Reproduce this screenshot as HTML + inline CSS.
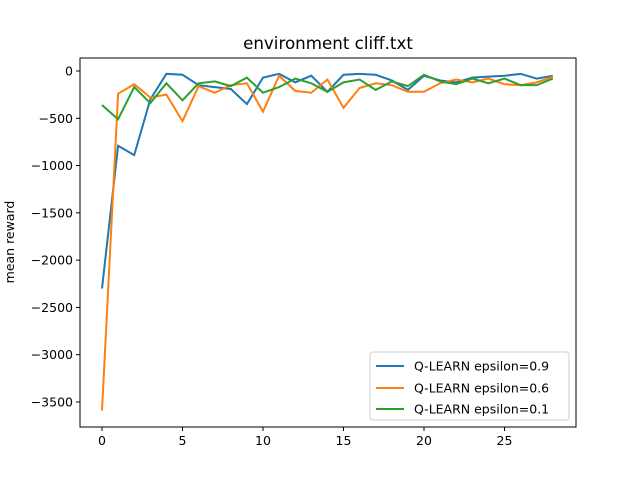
<!DOCTYPE html>
<html><head><meta charset="utf-8"><style>body{margin:0;background:#fff}svg{font-family:"DejaVu Sans","Liberation Sans",sans-serif}</style></head>
<body>
<svg id="chart" width="640" height="480">
<rect width="640" height="480" fill="#fff"/>
<text x="328" y="49" font-size="16.7" text-anchor="middle">environment cliff.txt</text>
<text transform="translate(14,242) rotate(-90)" font-size="12.5" text-anchor="middle">mean reward</text>
<g id="ticks"></g>
<g id="lines"></g>
<rect x="80" y="58" width="496" height="369" fill="none" stroke="#000" stroke-width="1"/>
<g>
<rect x="370" y="352" width="199" height="68" rx="3" fill="#fff" fill-opacity="0.8" stroke="#ccc"/>
<g><line x1="376" x2="404" y1="366" y2="366" stroke="#1f77b4" stroke-width="2"/><text x="414" y="370.5" font-size="12.5">Q-LEARN epsilon=0.9</text></g>
<g><line x1="376" x2="404" y1="388" y2="388" stroke="#ff7f0e" stroke-width="2"/><text x="414" y="392.5" font-size="12.5">Q-LEARN epsilon=0.6</text></g>
<g><line x1="376" x2="404" y1="409" y2="409" stroke="#2ca02c" stroke-width="2"/><text x="414" y="413.5" font-size="12.5">Q-LEARN epsilon=0.1</text></g>
</g>
</svg>
<script>
const xTicks=[0,5,10,15,20,25];
const yTicks=[0,-500,-1000,-1500,-2000,-2500,-3000,-3500];
const seriesNames=["0.9","0.6","0.1"];
const colors=["#1f77b4","#ff7f0e","#2ca02c"];
const s09=[-2300,-790,-890,-300,-30,-40,-150,-170,-190,-350,-70,-30,-120,-50,-220,-40,-30,-40,-100,-200,-50,-100,-120,-70,-60,-50,-30,-80,-50];
const s06=[-3590,-240,-140,-280,-250,-530,-160,-230,-150,-130,-430,-50,-210,-230,-90,-390,-180,-130,-150,-220,-220,-130,-90,-120,-80,-140,-150,-120,-60];
const s01=[-360,-510,-170,-340,-130,-310,-130,-110,-160,-70,-230,-170,-80,-130,-220,-120,-90,-200,-110,-160,-40,-110,-140,-80,-130,-80,-150,-150,-80];
const NS="http://www.w3.org/2000/svg";
function xs(v){return 102+v*16.1;}
function ys(v){return 71-v*0.09457;}
const tg=document.getElementById('ticks');
for(const t of xTicks){
 const l=document.createElementNS(NS,'line');l.setAttribute('x1',xs(t));l.setAttribute('x2',xs(t));l.setAttribute('y1',427);l.setAttribute('y2',431);l.setAttribute('stroke','#000');
 
 
 tg.appendChild(l);
 const tx=document.createElementNS(NS,'text');tx.setAttribute('x',xs(t));tx.setAttribute('y',445);tx.setAttribute('font-size','12.5');tx.setAttribute('text-anchor','middle');tx.textContent=t;
 
 
 tg.appendChild(tx);
}
for(const t of yTicks){
 const l=document.createElementNS(NS,'line');l.setAttribute('x1',76);l.setAttribute('x2',80);l.setAttribute('y1',ys(t));l.setAttribute('y2',ys(t));l.setAttribute('stroke','#000');
 
 
 tg.appendChild(l);
 const tx=document.createElementNS(NS,'text');tx.setAttribute('x',73);tx.setAttribute('y',ys(t)+4.5);tx.setAttribute('font-size','12.5');tx.setAttribute('text-anchor','end');tx.textContent=t===0?'0':'\u2212'+Math.abs(t);
 
 
 tg.appendChild(tx);
}
const lg=document.getElementById('lines');
[s09,s06,s01].forEach((s,i)=>{
 const p=document.createElementNS(NS,'polyline');
 p.setAttribute('points',s.map((v,j)=>xs(j)+','+ys(v)).join(' '));
 p.setAttribute('fill','none');p.setAttribute('stroke',colors[i]);p.setAttribute('stroke-width','2');
 
 
 lg.appendChild(p);
});
</script>
</body></html>
